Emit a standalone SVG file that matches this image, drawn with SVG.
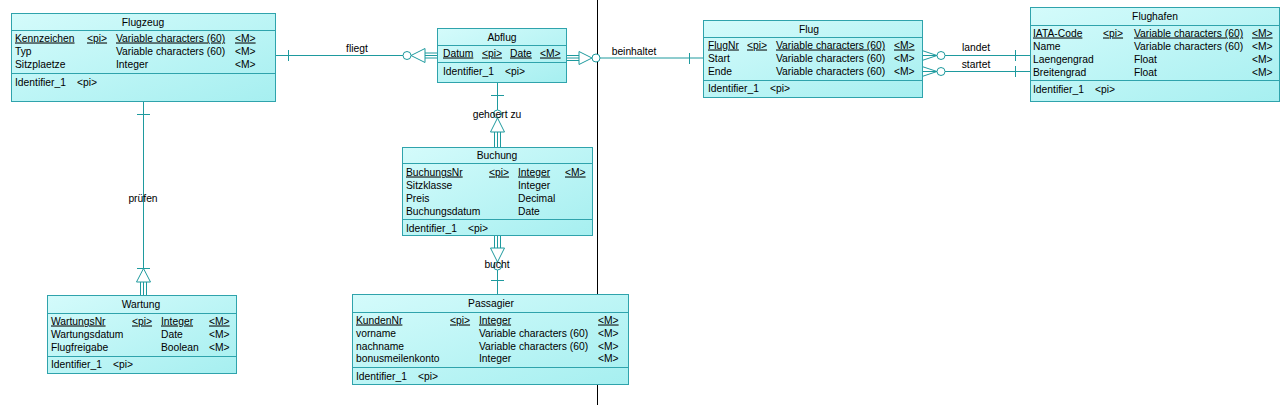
<svg xmlns="http://www.w3.org/2000/svg" width="1282" height="405" viewBox="0 0 1282 405">
<style>
text{font-family:"Liberation Sans",Arial,sans-serif;font-size:10.3px;fill:#000}
.t{text-anchor:middle}
.u{text-decoration:underline}
.box{fill:url(#g);stroke:#2fa3ac;stroke-width:1}
.sep{stroke:#2fa3ac;stroke-width:1}
.c{stroke:#1e9a9e;stroke-width:1;fill:none}
.cw{stroke:#1e9a9e;stroke-width:1;fill:#fff}
.lbl{text-anchor:middle}
</style>
<defs>
<linearGradient id="g" x1="0" y1="0" x2="1" y2="1">
<stop offset="0" stop-color="#d4fbfb"/>
<stop offset="1" stop-color="#a6eff0"/>
</linearGradient>
</defs>
<rect width="1282" height="405" fill="#fff"/>
<line x1="597.5" y1="0" x2="597.5" y2="405" stroke="#000" stroke-width="1"/>

<g id="connectors">
<!-- fliegt -->
<line class="c" x1="275" y1="55.5" x2="403" y2="55.5"/>
<line class="c" x1="288.5" y1="50" x2="288.5" y2="61"/>
<circle class="cw" cx="407" cy="55.5" r="4"/>
<polygon class="cw" points="411,55.5 425,48.5 425,62.5"/>
<line class="c" x1="425" y1="53" x2="437" y2="53"/>
<line class="c" x1="425" y1="55.5" x2="437" y2="55.5"/>
<line class="c" x1="425" y1="58" x2="437" y2="58"/>
<text class="lbl" x="357" y="51.5">fliegt</text>
<!-- beinhaltet -->
<line class="c" x1="566" y1="55.5" x2="579" y2="55.5"/>
<line class="c" x1="566" y1="58" x2="579" y2="58"/>
<line class="c" x1="566" y1="60.5" x2="579" y2="60.5"/>
<polygon class="cw" points="579,51.5 579,64.5 592,58"/>
<circle class="cw" cx="596" cy="58" r="4"/>
<line class="c" x1="600" y1="58" x2="703" y2="58"/>
<line class="c" x1="689.5" y1="53" x2="689.5" y2="64"/>
<text class="lbl" x="634" y="54.5">beinhaltet</text>
<!-- gehoert zu -->
<line class="c" x1="497.5" y1="82" x2="497.5" y2="110"/>
<line class="c" x1="491" y1="95.5" x2="504" y2="95.5"/>
<circle class="cw" cx="497.5" cy="114" r="4"/>
<polygon class="cw" points="497.5,118 490.5,132 504.5,132"/>
<line class="c" x1="494.5" y1="132" x2="494.5" y2="147"/>
<line class="c" x1="497.5" y1="132" x2="497.5" y2="147"/>
<line class="c" x1="500.5" y1="132" x2="500.5" y2="147"/>
<text class="lbl" x="497" y="117.5">gehoert zu</text>
<!-- bucht -->
<line class="c" x1="494.5" y1="235" x2="494.5" y2="248"/>
<line class="c" x1="497.5" y1="235" x2="497.5" y2="248"/>
<line class="c" x1="500.5" y1="235" x2="500.5" y2="248"/>
<polygon class="cw" points="490.5,248 504.5,248 497.5,262"/>
<circle class="cw" cx="497.5" cy="266" r="4"/>
<line class="c" x1="497.5" y1="270" x2="497.5" y2="294"/>
<line class="c" x1="491" y1="280.5" x2="504" y2="280.5"/>
<text class="lbl" x="497" y="267.5">bucht</text>
<!-- pruefen -->
<line class="c" x1="143.5" y1="101" x2="143.5" y2="268"/>
<line class="c" x1="137" y1="114.5" x2="150" y2="114.5"/>
<line class="c" x1="137" y1="268.5" x2="150" y2="268.5"/>
<polygon class="cw" points="143.5,268.5 136.5,282 150.5,282"/>
<line class="c" x1="140.5" y1="282" x2="140.5" y2="295"/>
<line class="c" x1="143.5" y1="282" x2="143.5" y2="295"/>
<line class="c" x1="146.5" y1="282" x2="146.5" y2="295"/>
<text class="lbl" x="143" y="201.5">prüfen</text>
<!-- landet -->
<line class="c" x1="922" y1="50.5" x2="937" y2="55.5"/>
<line class="c" x1="922" y1="55.5" x2="937" y2="55.5"/>
<line class="c" x1="922" y1="60.5" x2="937" y2="55.5"/>
<circle class="cw" cx="941" cy="55.5" r="4"/>
<line class="c" x1="945" y1="55.5" x2="1030" y2="55.5"/>
<line class="c" x1="1015.5" y1="50" x2="1015.5" y2="61"/>
<text class="lbl" x="976" y="50.5">landet</text>
<!-- startet -->
<line class="c" x1="922" y1="66.5" x2="937" y2="71.5"/>
<line class="c" x1="922" y1="71.5" x2="937" y2="71.5"/>
<line class="c" x1="922" y1="76.5" x2="937" y2="71.5"/>
<circle class="cw" cx="941" cy="71.5" r="4"/>
<line class="c" x1="945" y1="71.5" x2="1030" y2="71.5"/>
<line class="c" x1="1015.5" y1="66" x2="1015.5" y2="77"/>
<text class="lbl" x="976" y="67.5">startet</text>
</g>

<g id="Flugzeug">
<rect class="box" x="11.5" y="13.5" width="264" height="88"/>
<line class="sep" x1="11.5" y1="30.5" x2="275.5" y2="30.5"/>
<line class="sep" x1="11.5" y1="73.5" x2="275.5" y2="73.5"/>
<text class="t" x="143" y="25.5">Flugzeug</text>
<text class="u" x="15" y="41.5">Kennzeichen</text><text class="u" x="87" y="41.5">&lt;pi&gt;</text><text class="u" x="116" y="41.5">Variable characters (60)</text><text class="u" x="235" y="41.5">&lt;M&gt;</text>
<text x="15" y="54.5">Typ</text><text x="116" y="54.5">Variable characters (60)</text><text x="235" y="54.5">&lt;M&gt;</text>
<text x="15" y="67.5">Sitzplaetze</text><text x="116" y="67.5">Integer</text><text x="235" y="67.5">&lt;M&gt;</text>
<text x="15" y="86">Identifier_1</text><text x="77" y="86">&lt;pi&gt;</text>
</g>

<g id="Abflug">
<rect class="box" x="437.5" y="28.5" width="129" height="54"/>
<line class="sep" x1="437.5" y1="45.5" x2="566.5" y2="45.5"/>
<line class="sep" x1="437.5" y1="62.5" x2="566.5" y2="62.5"/>
<text class="t" x="502" y="40.5">Abflug</text>
<text class="u" x="443" y="56.5">Datum</text><text class="u" x="482" y="56.5">&lt;pi&gt;</text><text class="u" x="510" y="56.5">Date</text><text class="u" x="540" y="56.5">&lt;M&gt;</text>
<text x="443" y="74.5">Identifier_1</text><text x="505" y="74.5">&lt;pi&gt;</text>
</g>

<g id="Flug">
<rect class="box" x="703.5" y="20.5" width="219" height="77"/>
<line class="sep" x1="703.5" y1="37.5" x2="922.5" y2="37.5"/>
<line class="sep" x1="703.5" y1="80.5" x2="922.5" y2="80.5"/>
<text class="t" x="809" y="32.5">Flug</text>
<text class="u" x="708" y="48.5">FlugNr</text><text class="u" x="747" y="48.5">&lt;pi&gt;</text><text class="u" x="776" y="48.5">Variable characters (60)</text><text class="u" x="894" y="48.5">&lt;M&gt;</text>
<text x="708" y="61.5">Start</text><text x="776" y="61.5">Variable characters (60)</text><text x="894" y="61.5">&lt;M&gt;</text>
<text x="708" y="74.5">Ende</text><text x="776" y="74.5">Variable characters (60)</text><text x="894" y="74.5">&lt;M&gt;</text>
<text x="708" y="92">Identifier_1</text><text x="770" y="92">&lt;pi&gt;</text>
</g>

<g id="Flughafen">
<rect class="box" x="1030.5" y="7.5" width="249" height="94"/>
<line class="sep" x1="1030.5" y1="25.5" x2="1279.5" y2="25.5"/>
<line class="sep" x1="1030.5" y1="80.5" x2="1279.5" y2="80.5"/>
<text class="t" x="1155" y="20">Flughafen</text>
<text class="u" x="1033" y="36.5">IATA-Code</text><text class="u" x="1103" y="36.5">&lt;pi&gt;</text><text class="u" x="1134" y="36.5">Variable characters (60)</text><text class="u" x="1252" y="36.5">&lt;M&gt;</text>
<text x="1033" y="49.5">Name</text><text x="1134" y="49.5">Variable characters (60)</text><text x="1252" y="49.5">&lt;M&gt;</text>
<text x="1033" y="62.5">Laengengrad</text><text x="1134" y="62.5">Float</text><text x="1252" y="62.5">&lt;M&gt;</text>
<text x="1033" y="75.5">Breitengrad</text><text x="1134" y="75.5">Float</text><text x="1252" y="75.5">&lt;M&gt;</text>
<text x="1033" y="92.5">Identifier_1</text><text x="1095" y="92.5">&lt;pi&gt;</text>
</g>

<g id="Buchung">
<rect class="box" x="402.5" y="147.5" width="190" height="88"/>
<line class="sep" x1="402.5" y1="163.5" x2="592.5" y2="163.5"/>
<line class="sep" x1="402.5" y1="219.5" x2="592.5" y2="219.5"/>
<text class="t" x="497" y="158.5">Buchung</text>
<text class="u" x="406" y="175.5">BuchungsNr</text><text class="u" x="489" y="175.5">&lt;pi&gt;</text><text class="u" x="518" y="175.5">Integer</text><text class="u" x="565" y="175.5">&lt;M&gt;</text>
<text x="406" y="188.5">Sitzklasse</text><text x="518" y="188.5">Integer</text>
<text x="406" y="201.5">Preis</text><text x="518" y="201.5">Decimal</text>
<text x="406" y="214.5">Buchungsdatum</text><text x="518" y="214.5">Date</text>
<text x="406" y="231.5">Identifier_1</text><text x="468" y="231.5">&lt;pi&gt;</text>
</g>

<g id="Wartung">
<rect class="box" x="47.5" y="295.5" width="189" height="78"/>
<line class="sep" x1="47.5" y1="313.5" x2="236.5" y2="313.5"/>
<line class="sep" x1="47.5" y1="356.5" x2="236.5" y2="356.5"/>
<text class="t" x="141" y="307.5">Wartung</text>
<text class="u" x="51" y="324.5">WartungsNr</text><text class="u" x="132" y="324.5">&lt;pi&gt;</text><text class="u" x="161" y="324.5">Integer</text><text class="u" x="209" y="324.5">&lt;M&gt;</text>
<text x="51" y="337.5">Wartungsdatum</text><text x="161" y="337.5">Date</text><text x="209" y="337.5">&lt;M&gt;</text>
<text x="51" y="350.5">Flugfreigabe</text><text x="161" y="350.5">Boolean</text><text x="209" y="350.5">&lt;M&gt;</text>
<text x="51" y="367.5">Identifier_1</text><text x="113" y="367.5">&lt;pi&gt;</text>
</g>

<g id="Passagier">
<rect class="box" x="352.5" y="294.5" width="276" height="90"/>
<line class="sep" x1="352.5" y1="312.5" x2="628.5" y2="312.5"/>
<line class="sep" x1="352.5" y1="367.5" x2="628.5" y2="367.5"/>
<text class="t" x="491" y="306.5">Passagier</text>
<text class="u" x="356" y="323.5">KundenNr</text><text class="u" x="450" y="323.5">&lt;pi&gt;</text><text class="u" x="479" y="323.5">Integer</text><text class="u" x="598" y="323.5">&lt;M&gt;</text>
<text x="356" y="336.5">vorname</text><text x="479" y="336.5">Variable characters (60)</text><text x="598" y="336.5">&lt;M&gt;</text>
<text x="356" y="349.5">nachname</text><text x="479" y="349.5">Variable characters (60)</text><text x="598" y="349.5">&lt;M&gt;</text>
<text x="356" y="361.5">bonusmeilenkonto</text><text x="479" y="361.5">Integer</text><text x="598" y="361.5">&lt;M&gt;</text>
<text x="356" y="379.5">Identifier_1</text><text x="418" y="379.5">&lt;pi&gt;</text>
</g>
</svg>
